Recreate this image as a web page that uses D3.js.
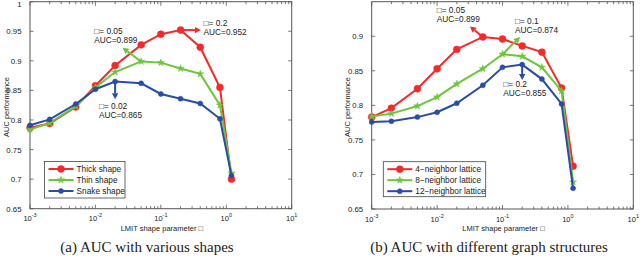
<!DOCTYPE html>
<html>
<head>
<meta charset="utf-8">
<script src="https://cdnjs.cloudflare.com/ajax/libs/d3/7.8.5/d3.min.js"></script>
<style>
  body { margin: 0; background: #fff; }
  svg text { font-family: "Liberation Sans", Arial, sans-serif; fill: #222; }
</style>
</head>
<body>
<div id="chart"></div>
<script>
// shared x values (LMIT shape parameter)
var lambdas = [0.001, 0.002, 0.005, 0.01, 0.02, 0.05, 0.1, 0.2, 0.4, 0.8, 1.2];

// panel (a)
var thickShape = [0.787, 0.794, 0.822, 0.858, 0.892, 0.927, 0.945, 0.952, 0.923, 0.855, 0.700];
var thinShape  = [0.784, 0.795, 0.823, 0.855, 0.881, 0.899, 0.897, 0.887, 0.878, 0.825, 0.710];
var snakeShape = [0.791, 0.801, 0.827, 0.852, 0.865, 0.862, 0.844, 0.836, 0.828, 0.802, 0.706];

// panel (b)
var lattice4  = [0.783, 0.796, 0.824, 0.853, 0.881, 0.899, 0.896, 0.886, 0.877, 0.825, 0.712];
var lattice8  = [0.784, 0.788, 0.799, 0.812, 0.831, 0.853, 0.874, 0.871, 0.855, 0.821, 0.689];
var lattice12 = [0.776, 0.777, 0.783, 0.790, 0.803, 0.829, 0.855, 0.859, 0.838, 0.802, 0.680];

var ticksA = [0.65, 0.7, 0.75, 0.8, 0.85, 0.9, 0.95, 1];
var ticksB = [0.65, 0.7, 0.75, 0.8, 0.85, 0.9];
var xTicks = [-3, -2, -1, 0, 1];

var RED = "#f42a2a", GREEN = "#6cc63c", BLUE = "#2b4ca6";

var svg = d3.select("#chart").append("svg")
  .attr("width", 640).attr("height", 259);

function drawPanel(p) {
  var x = d3.scaleLog().domain([0.001, 10]).range([p.left, p.right]);
  var y = d3.scaleLinear().domain(p.yDomain).range([p.bottom, p.top]);
  var g = svg.append("g");

  // frame
  g.append("rect")
    .attr("x", p.left).attr("y", p.top)
    .attr("width", p.right - p.left).attr("height", p.bottom - p.top)
    .attr("fill", "none").attr("stroke", "#555").attr("stroke-width", 1);

  // x ticks (major + minor, inward, top and bottom)
  var minor = [];
  for (var e = -3; e < 1; e++) {
    for (var k = 2; k < 10; k++) minor.push(k * Math.pow(10, e));
  }
  var allX = xTicks.map(function(d) { return { v: Math.pow(10, d), len: 4 }; })
    .concat(minor.map(function(v) { return { v: v, len: 2.5 }; }));
  g.selectAll(".xtb").data(allX).enter().append("line")
    .attr("x1", function(d) { return x(d.v); }).attr("x2", function(d) { return x(d.v); })
    .attr("y1", p.bottom).attr("y2", function(d) { return p.bottom - d.len; })
    .attr("stroke", "#555").attr("stroke-width", 0.8);
  g.selectAll(".xtt").data(allX).enter().append("line")
    .attr("x1", function(d) { return x(d.v); }).attr("x2", function(d) { return x(d.v); })
    .attr("y1", p.top).attr("y2", function(d) { return p.top + d.len; })
    .attr("stroke", "#555").attr("stroke-width", 0.8);

  var xl = g.selectAll(".xl").data(xTicks).enter().append("text")
    .attr("x", function(d) { return x(Math.pow(10, d)); })
    .attr("y", p.bottom + 12.5)
    .attr("text-anchor", "middle")
    .attr("font-size", 7.5);
  xl.append("tspan").text("10");
  xl.append("tspan").attr("dy", -4).attr("font-size", 5.5).text(function(d) { return d; });

  // y ticks
  g.selectAll(".ytl").data(p.yTicks).enter().append("line")
    .attr("x1", p.left).attr("x2", p.left + 3.5)
    .attr("y1", function(d) { return y(d); }).attr("y2", function(d) { return y(d); })
    .attr("stroke", "#555").attr("stroke-width", 0.8);
  g.selectAll(".ytr").data(p.yTicks).enter().append("line")
    .attr("x1", p.right).attr("x2", p.right - 3.5)
    .attr("y1", function(d) { return y(d); }).attr("y2", function(d) { return y(d); })
    .attr("stroke", "#555").attr("stroke-width", 0.8);
  g.selectAll(".yl").data(p.yTicks).enter().append("text")
    .attr("x", p.left - 8.5).attr("y", function(d) { return Math.max(y(d) + 3, 6.5); })
    .attr("text-anchor", "end").attr("font-size", 7.8)
    .text(function(d) { return d3.format("")(+d.toFixed(2)); });

  // axis titles
  g.append("text")
    .attr("x", (p.left + p.right) / 2 + 1).attr("y", 231)
    .attr("text-anchor", "middle").attr("font-size", 7.5)
    .text("LMIT shape parameter \u25A1");
  g.append("text")
    .attr("transform", "translate(" + (p.left - 21.5) + ",107) rotate(-90)")
    .attr("text-anchor", "middle").attr("font-size", 7.5)
    .text("AUC performance");

  // caption
  g.append("text")
    .attr("x", p.capX).attr("y", 252)
    .attr("text-anchor", "middle")
    .style("font-family", "'Liberation Serif', 'Times New Roman', serif")
    .attr("font-size", 15)
    .text(p.caption);

  var line = d3.line()
    .x(function(d) { return x(d[0]); })
    .y(function(d) { return y(d[1]); });

  // series: drawn in order so later ones sit on top
  p.series.forEach(function(s) {
    var pts = lambdas.map(function(l, i) { return [l, s.values[i]]; });
    g.append("path").datum(pts)
      .attr("d", line).attr("fill", "none")
      .attr("stroke", s.color).attr("stroke-width", 2);
    g.selectAll(null).data(pts).enter().append("path")
      .attr("transform", function(d) { return "translate(" + x(d[0]) + "," + y(d[1]) + ")"; })
      .attr("d", marker(s.shape))
      .attr("fill", s.color).attr("stroke", s.color).attr("stroke-width", 0.5);
  });

  // annotations
  p.notes.forEach(function(n) {
    var x1 = x(n.from[0]), y1 = y(n.from[1]);
    var x2 = x(n.to[0]), y2 = y(n.to[1]);
    var ang = Math.atan2(y2 - y1, x2 - x1);
    var hl = 6, hw = 3.2;
    var bx = x2 - hl * Math.cos(ang), by = y2 - hl * Math.sin(ang);
    g.append("line")
      .attr("x1", x1).attr("y1", y1).attr("x2", bx).attr("y2", by)
      .attr("stroke", n.color).attr("stroke-width", 2);
    g.append("path")
      .attr("d", "M" + x2 + "," + y2 +
        "L" + (bx + hw * Math.sin(ang)) + "," + (by - hw * Math.cos(ang)) +
        "L" + (bx - hw * Math.sin(ang)) + "," + (by + hw * Math.cos(ang)) + "Z")
      .attr("fill", n.color);
    g.append("text").attr("x", x(n.text[0])).attr("y", y(n.text[1]))
      .attr("font-size", 8.3).text("\u25A1= " + n.lam);
    g.append("text").attr("x", x(n.text[0])).attr("y", y(n.text[1]) + 9)
      .attr("font-size", 8.3).text("AUC=" + n.auc);
  });

  // legend
  var L = p.legend;
  g.append("rect")
    .attr("x", L.x).attr("y", L.y).attr("width", L.w).attr("height", L.h)
    .attr("fill", "#fff").attr("stroke", "#444").attr("stroke-width", 0.8);
  p.series.forEach(function(s, i) {
    var ry = L.y + 7.5 + i * 11;
    g.append("line")
      .attr("x1", L.x + 4).attr("x2", L.x + 29).attr("y1", ry).attr("y2", ry)
      .attr("stroke", s.color).attr("stroke-width", 2);
    g.append("path")
      .attr("transform", "translate(" + (L.x + 16.5) + "," + ry + ")")
      .attr("d", marker(s.shape))
      .attr("fill", s.color).attr("stroke", s.color).attr("stroke-width", 0.5);
    g.append("text").attr("x", L.x + 32).attr("y", ry + 3)
      .attr("font-size", 8.3).text(s.name);
  });
}

function marker(shape) {
  if (shape === "big") return d3.symbol().type(d3.symbolCircle).size(38)();
  if (shape === "star") return d3.symbol().type(d3.symbolStar).size(16)();
  return d3.symbol().type(d3.symbolCircle).size(20)();
}

drawPanel({
  left: 30, right: 291.7, top: 1.7, bottom: 208.7,
  yDomain: [0.65, 1], yTicks: ticksA,
  caption: "(a) AUC with various shapes", capX: 147,
  series: [
    { name: "Thick shape", values: thickShape, color: RED, shape: "big" },
    { name: "Thin shape", values: thinShape, color: GREEN, shape: "star" },
    { name: "Snake shape", values: snakeShape, color: BLUE, shape: "small" }
  ],
  notes: [
    { from: [0.2, 0.952], to: [0.41, 0.952], text: [0.45, 0.9585], lam: "0.2", auc: "0.952", color: RED },
    { from: [0.05, 0.899], to: [0.026, 0.922], text: [0.0096, 0.946], lam: "0.05", auc: "0.899", color: GREEN },
    { from: [0.02, 0.865], to: [0.02, 0.835], text: [0.0113, 0.818], lam: "0.02", auc: "0.865", color: BLUE }
  ],
  legend: { x: 44.5, y: 161.5, w: 80.5, h: 36.5 }
});

drawPanel({
  left: 371.7, right: 633.3, top: 1.7, bottom: 209,
  yDomain: [0.65, 0.95], yTicks: ticksB,
  caption: "(b) AUC with different graph structures", capX: 489,
  series: [
    { name: "4\u2212neighbor lattice", values: lattice4, color: RED, shape: "big" },
    { name: "8\u2212neighbor lattice", values: lattice8, color: GREEN, shape: "star" },
    { name: "12\u2212neighbor lattice", values: lattice12, color: BLUE, shape: "small" }
  ],
  notes: [
    { from: [0.05, 0.899], to: [0.0318, 0.914], text: [0.00986, 0.934], lam: "0.05", auc: "0.899", color: RED },
    { from: [0.1, 0.874], to: [0.185, 0.899], text: [0.155, 0.9177], lam: "0.1", auc: "0.874", color: GREEN },
    { from: [0.2, 0.859], to: [0.2, 0.8367], text: [0.1028, 0.826], lam: "0.2", auc: "0.855", color: BLUE }
  ],
  legend: { x: 383.3, y: 161.7, w: 102.4, h: 35 }
});
</script>
</body>
</html>
